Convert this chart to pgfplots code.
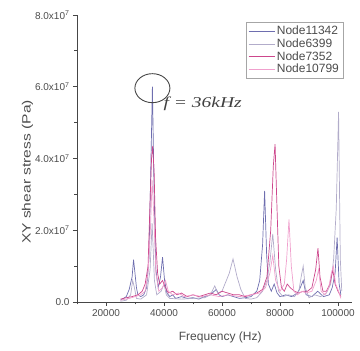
\documentclass[border=0pt]{standalone}
\usepackage{pgfplots}
\pgfplotsset{compat=1.18}
\usepackage{fontspec}
\setmainfont{Liberation Sans}
\newfontfamily\serifit{Liberation Serif}
\usepackage{graphicx}
\definecolor{cA}{RGB}{110,110,175}
\definecolor{cB}{RGB}{178,172,202}
\definecolor{cC}{RGB}{205,70,140}
\definecolor{cD}{RGB}{240,160,205}
\definecolor{axc}{RGB}{70,70,70}
\begin{document}
\begin{tikzpicture}
\path[use as bounding box] (0pt,0pt) rectangle (360pt,351pt);
\begin{axis}[
  at={(77pt,49pt)}, anchor=south west,
  scale only axis, width=275.5pt, height=287pt,
  xmin=10000, xmax=105000, ymin=0, ymax=8,
  axis x line=bottom, axis y line=left,
  axis line style={-, color=axc, line width=0.8pt},
  xtick={20000,40000,60000,80000,100000},
  xticklabels={20000,40000,60000,80000,100000},
  minor xtick={10000,30000,50000,70000,90000},
  ytick={0,2,4,6,8},
  yticklabels={0.0,2.0x10\textsuperscript{7},4.0x10\textsuperscript{7},6.0x10\textsuperscript{7},8.0x10\textsuperscript{7}},
  minor ytick={1,3,5,7},
  tick align=outside, major tick length=4pt, minor tick length=2.5pt,
  tick style={color=axc, line width=0.8pt},
  scaled ticks=false,
  tick label style={font=\fontsize{10}{12}\selectfont, color=black!70},
  xlabel={Frequency (Hz)},
  ylabel={\scalebox{1.3}[1]{XY shear stress (Pa)}},
  label style={font=\fontsize{12}{14}\selectfont, color=black!70},
  xlabel style={at={(axis description cs:0.52,-0.125)}, anchor=center},
  ylabel style={at={(axis description cs:-0.18,0.453)}, anchor=center, rotate=0},
  legend style={at={(0.613,0.976)}, anchor=north west, draw=black!35, fill=white,
    font=\fontsize{12}{13.5}\selectfont, text=black!70, inner sep=2pt, row sep=-1.5pt,
    line width=0.6pt},
  legend cell align=left,
  legend image code/.code={\draw[#1] (0pt,0pt) -- (26pt,0pt);},
  every axis plot/.append style={line width=0.7pt},
  clip=false,
]
\addplot[cA] coordinates {
(25000,0.05) (26000,0.1) (27000,0.15) (28000,0.35) (29000,0.7) (29500,1.18) (30000,0.8) (30500,0.4)
(31000,0.2) (32000,0.15) (33000,0.2) (34000,0.4) (34800,1.2) (35400,3.5) (36000,6.0) (36600,3.0)
(37200,0.9) (38000,0.4) (38800,0.7) (39500,1.25) (40200,0.6) (41000,0.25) (42000,0.15) (43000,0.2)
(44000,0.1) (46000,0.15) (48000,0.1) (50000,0.12) (52000,0.08) (54000,0.15) (56000,0.2) (58000,0.35)
(59000,0.2) (60000,0.15) (62000,0.2) (64000,0.15) (66000,0.1) (68000,0.12) (70000,0.15) (72000,0.3)
(73000,0.6) (74000,1.6) (74700,3.1) (75400,1.3) (76000,0.5) (77000,0.3) (78000,0.5) (79000,0.25)
(80000,0.15) (82000,0.2) (84000,0.15) (86000,0.25) (87000,0.4) (88000,0.6) (89000,0.2) (91000,0.15)
(93000,0.3) (95000,0.15) (97000,0.2) (98000,0.4) (99000,0.8) (99700,1.8) (100400,0.5) (101000,0.2)
};
\addlegendentry{Node11342}
\addplot[cB] coordinates {
(25000,0.02) (27000,0.05) (28500,0.2) (29200,0.6) (29800,0.4) (30500,0.1) (32000,0.08) (34000,0.2)
(35200,0.9) (35900,2.2) (36700,0.6) (37500,0.2) (39000,0.3) (40000,0.5) (40800,0.2) (42000,0.1)
(46000,0.08) (50000,0.1) (54000,0.12) (56000,0.2) (57500,0.45) (58500,0.25) (60000,0.3) (61000,0.5)
(62500,0.8) (63800,1.2) (65200,0.7) (66500,0.35) (68000,0.1) (70000,0.08) (72000,0.12) (74000,0.3)
(75500,0.6) (76500,1.1) (77500,1.9) (78500,0.9) (79500,0.3) (81000,0.15) (83000,0.2) (85000,0.15)
(86500,0.3) (87300,0.7) (88000,1.0) (88700,0.4) (90000,0.12) (92000,0.2) (94000,0.15) (96000,0.25)
(97500,0.5) (98500,1.2) (99400,2.6) (100200,5.3) (100800,1.2) (101300,0.3)
};
\addlegendentry{Node6399}
\addplot[cC] coordinates {
(25000,0.08) (27000,0.12) (29000,0.15) (31000,0.2) (32500,0.3) (33500,0.5) (34500,1.0) (35200,2.8)
(35700,4.0) (36100,4.35) (36600,3.6) (37100,1.8) (37800,0.8) (38500,0.5) (39500,0.6) (40500,0.4)
(41500,0.25) (43000,0.3) (44500,0.2) (46000,0.25) (48000,0.15) (50000,0.2) (52000,0.15) (54000,0.2)
(56000,0.25) (58000,0.2) (60000,0.3) (62000,0.25) (64000,0.2) (66000,0.2) (68000,0.15) (70000,0.2)
(72000,0.25) (74000,0.35) (75500,0.7) (76800,2.0) (77700,3.8) (78300,4.4) (78900,2.8) (79600,1.0)
(80500,0.4) (81500,0.3) (82500,0.5) (83500,0.4) (85000,0.3) (86500,0.25) (88000,0.3) (89500,0.3)
(91000,0.4) (92300,0.9) (93100,1.5) (93800,0.7) (94800,0.3) (96000,0.3) (97200,0.5) (98200,0.9)
(99000,0.5) (100000,0.3) (101000,0.15)
};
\addlegendentry{Node7352}
\addplot[cD] coordinates {
(25000,0.05) (28000,0.1) (30000,0.15) (32000,0.2) (33500,0.3) (34500,0.8) (35300,2.0) (35900,3.4)
(36500,2.4) (37200,0.8) (38200,0.3) (39500,0.4) (40500,0.6) (41500,0.3) (43000,0.2) (45000,0.25)
(47000,0.15) (50000,0.2) (53000,0.15) (56000,0.2) (59000,0.15) (62000,0.2) (66000,0.15) (70000,0.2)
(73000,0.25) (75000,0.4) (76500,0.8) (77500,1.3) (78500,0.6) (80000,0.3) (81500,0.5) (82300,1.2)
(83100,2.3) (83900,1.0) (84800,0.3) (86000,0.2) (87500,0.3) (89000,0.25) (91000,0.3) (92500,0.6)
(93300,0.9) (94200,0.3) (95500,0.2) (96800,0.4) (97700,0.8) (98400,1.0) (99200,0.5) (100200,0.3)
(101000,0.1)
};
\addlegendentry{Node10799}
\draw[axc, line width=0.9pt] (axis cs:36000,5.96) ellipse [x radius=17.5pt, y radius=14.5pt];
\node[anchor=west, inner sep=0pt, text=black!75] at (axis cs:39800,5.52)
  {\scalebox{1.3}[1]{\fontsize{15}{17}\selectfont\serifit\itshape f = 36kHz}};
\end{axis}
\end{tikzpicture}
\end{document}
